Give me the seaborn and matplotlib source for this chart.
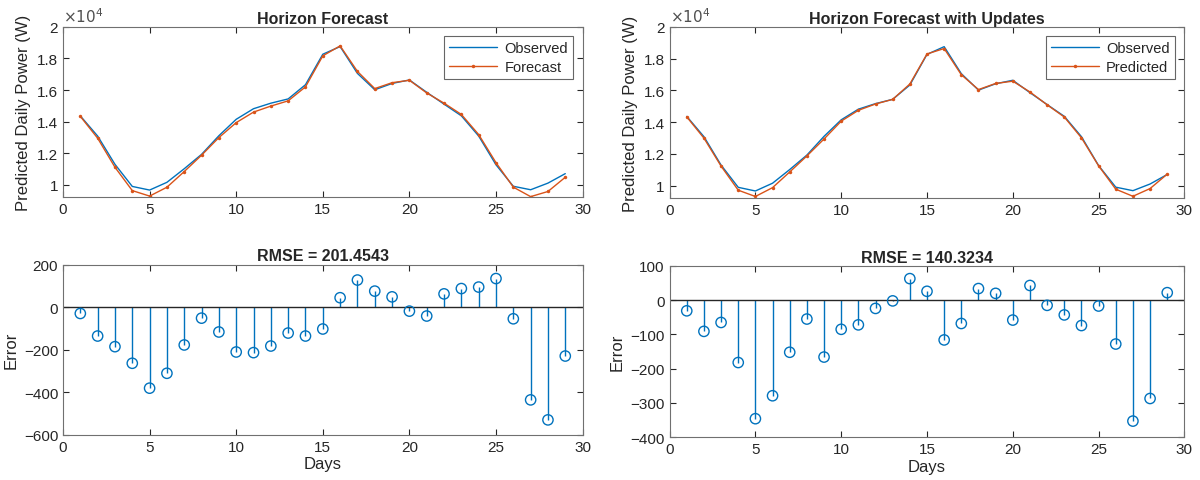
import matplotlib.pyplot as plt
import numpy as np
import pandas as pd
import seaborn as sns

BLUE = "#0072BD"
ORANGE = "#D95319"
EDGE = "#262626"

days = list(range(1, 30))

observed = [14365, 13090, 11300, 9900, 9670, 10160, 11020, 11930, 13110, 14150,
            14820, 15170, 15440, 16340, 18270, 18755, 17055, 16020, 16420, 16640,
            15860, 15110, 14370, 13090, 11270, 9910, 9690, 10110, 10710]

# error = forecast - observed
error_forecast = [-30, -136, -186, -264, -381, -311, -178, -52, -117, -211,
                  -214, -183, -122, -136, -103, 44, 127, 75, 48, -19,
                  -42, 62, 87, 94, 134, -55, -436, -530, -230]
error_updates = [-31, -91, -65, -182, -346, -279, -152, -55, -166, -85,
                 -72, -24, -2, 63, 26, -116, -68, 34, 20, -58,
                 43, -15, -43, -74, -17, -128, -353, -287, 22]

panels = [
    {"title": "Horizon Forecast", "label": "Forecast", "err": error_forecast,
     "rmse": "RMSE = 201.4543", "elim": (-600, 200), "estep": 200},
    {"title": "Horizon Forecast with Updates", "label": "Predicted", "err": error_updates,
     "rmse": "RMSE = 140.3234", "elim": (-400, 100), "estep": 100},
]

sns.set_style("ticks")
plt.rcParams["font.family"] = ["Liberation Sans", "DejaVu Sans"]
plt.rcParams["axes.edgecolor"] = EDGE
plt.rcParams["xtick.color"] = EDGE
plt.rcParams["ytick.color"] = EDGE

fig = plt.figure(figsize=(12, 4.81), dpi=100)

# axes boxes [left, bottom, width, height] in figure fractions
top_boxes = [[0.0525, 0.588, 0.433, 0.354], [0.558, 0.586, 0.429, 0.356]]
bot_boxes = [[0.0525, 0.094, 0.433, 0.354], [0.558, 0.089, 0.429, 0.356]]


def style_axes(ax):
    ax.tick_params(direction="in", top=True, right=True, length=4, width=0.8,
                   labelsize=11, labelcolor=EDGE)
    for s in ax.spines.values():
        s.set_visible(True)
        s.set_linewidth(0.8)
        s.set_color("#707070")


for i, p in enumerate(panels):
    df = pd.DataFrame({
        "day": days,
        "observed": observed,
        "pred": np.array(observed) + np.array(p["err"]),
        "err": p["err"],
    })

    # top: observed vs forecast
    ax = fig.add_axes(top_boxes[i])
    sns.lineplot(data=df, x="day", y="observed", color=BLUE, lw=1.0, ax=ax,
                 label="Observed")
    sns.lineplot(data=df, x="day", y="pred", color=ORANGE, lw=1.0, marker=".",
                 markersize=5, markeredgewidth=0, ax=ax, label=p["label"])
    ax.set_xlim(0, 30)
    ax.set_ylim(9220, 20000)
    ax.set_xticks(range(0, 31, 5))
    yt = [10000, 12000, 14000, 16000, 18000, 20000]
    ax.set_yticks(yt)
    ax.set_yticklabels(["1", "1.2", "1.4", "1.6", "1.8", "2"])
    ax.set_xlabel("")
    ax.set_ylabel("Predicted Daily Power (W)", fontsize=12, color=EDGE)
    ax.set_title(p["title"], fontsize=11.5, fontweight="bold", pad=3)
    ax.text(0.0, 1.01, r"$\times10^4$", transform=ax.transAxes, fontsize=11,
            color="#505050", ha="left", va="bottom")
    style_axes(ax)
    leg = ax.legend(loc="upper right", fontsize=10.5, frameon=True, fancybox=False,
                    edgecolor="#404040", borderaxespad=0.65, handlelength=3.3,
                    handletextpad=0.5, borderpad=0.35, labelspacing=0.3)
    leg.get_frame().set_linewidth(0.8)

    # bottom: error stems
    ax2 = fig.add_axes(bot_boxes[i])
    ax2.vlines(df["day"], 0, df["err"], color=BLUE, lw=1.0)
    ax2.axhline(0, color="#262626", lw=1.0)
    sns.scatterplot(data=df, x="day", y="err", marker="o", s=55,
                    facecolor="none", edgecolor=BLUE, linewidth=1.0, ax=ax2,
                    zorder=3)
    ax2.set_xlim(0, 30)
    ax2.set_ylim(*p["elim"])
    ax2.set_xticks(range(0, 31, 5))
    ax2.set_yticks(np.arange(p["elim"][0], p["elim"][1] + 1, p["estep"]))
    ax2.set_xlabel("Days", fontsize=12, color=EDGE, labelpad=2)
    ax2.set_ylabel("Error", fontsize=12, color=EDGE)
    ax2.set_title(p["rmse"], fontsize=11.5, fontweight="bold", pad=3)
    style_axes(ax2)

fig.savefig("out.png", dpi=100)
